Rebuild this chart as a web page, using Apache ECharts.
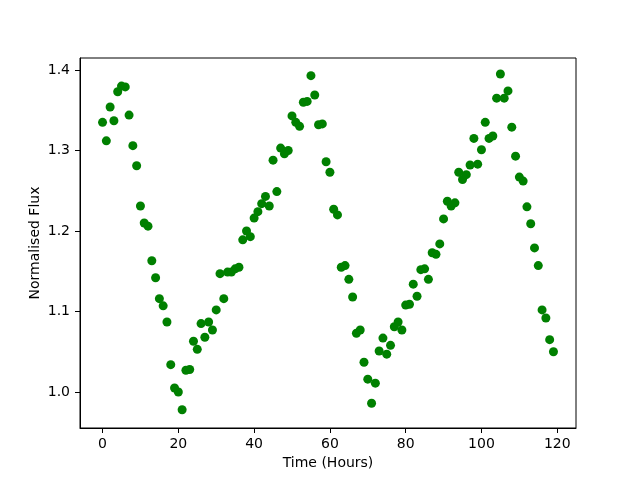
<!DOCTYPE html>
<html>
<head>
<meta charset="utf-8">
<script src="https://cdn.jsdelivr.net/npm/echarts@6/dist/echarts.min.js"></script>
<style>html,body{margin:0;padding:0;background:#fff}#c{width:640px;height:480px}</style>
</head>
<body>
<div id="c"></div>
<script>
const hours = [];
for (let i = 0; i < 120; i++) hours.push(i);
const flux = [
1.335,1.312,1.354,1.337,1.373,1.380,1.379,1.344,1.306,1.281,
1.231,1.210,1.206,1.163,1.142,1.116,1.107,1.087,1.034,1.005,
1.000,0.978,1.027,1.028,1.063,1.053,1.085,1.068,1.087,1.077,
1.102,1.147,1.116,1.149,1.149,1.153,1.155,1.189,1.200,1.193,
1.216,1.224,1.234,1.243,1.231,1.288,1.249,1.303,1.296,1.300,
1.343,1.335,1.330,1.360,1.361,1.393,1.369,1.332,1.333,1.286,
1.273,1.227,1.220,1.155,1.157,1.140,1.118,1.073,1.077,1.037,
1.016,0.986,1.011,1.051,1.067,1.047,1.058,1.081,1.087,1.077,
1.108,1.109,1.134,1.119,1.152,1.153,1.140,1.173,1.171,1.184,
1.215,1.237,1.231,1.235,1.273,1.264,1.270,1.282,1.315,1.283,
1.301,1.335,1.315,1.318,1.365,1.395,1.365,1.374,1.329,1.293,
1.267,1.262,1.230,1.209,1.179,1.157,1.102,1.092,1.065,1.050
];
const xTicks = [0, 20, 40, 60, 80, 100, 120];
const yTicks = [1.0, 1.1, 1.2, 1.3, 1.4];

const points = hours.map((h, i) => [h, flux[i]]);
const font = 'DejaVu Sans';
const chart = echarts.init(document.getElementById('c'), null, {renderer: 'canvas'});
chart.setOption({
  animation: false,
  backgroundColor: '#ffffff',
  grid: {left: 80, right: 64, top: 58, bottom: 52, show: true, borderColor: '#000', borderWidth: 1, backgroundColor: 'transparent'},
  xAxis: {
    type: 'value', min: -5.95, max: 124.95,
    name: 'Time (Hours)', nameLocation: 'middle', nameGap: 28, nameMoveOverlap: false,
    nameTextStyle: {fontFamily: font, fontSize: 14, color: '#000'},
    axisLine: {show: true, onZero: false, lineStyle: {color: '#000', width: 1}},
    axisTick: {show: true, length: 5, lineStyle: {color: '#000'}, customValues: xTicks},
    axisLabel: {fontFamily: font, fontSize: 14, color: '#000', margin: 9, customValues: xTicks},
    splitLine: {show: false}
  },
  yAxis: {
    type: 'value', min: 0.9553, max: 1.4149,
    name: 'Normalised Flux', nameLocation: 'middle', nameGap: 38, nameMoveOverlap: false,
    nameTextStyle: {fontFamily: font, fontSize: 14, color: '#000'},
    axisLine: {show: true, onZero: false, lineStyle: {color: '#000', width: 1}},
    axisTick: {show: true, length: 5, lineStyle: {color: '#000'}, customValues: yTicks},
    axisLabel: {fontFamily: font, fontSize: 14, color: '#000', margin: 10, customValues: yTicks,
      formatter: v => v.toFixed(1)},
    splitLine: {show: false}
  },
  series: [{
    type: 'scatter', data: points, symbolSize: 9,
    itemStyle: {color: '#008000', opacity: 1}
  }]
});
</script>
</body>
</html>
